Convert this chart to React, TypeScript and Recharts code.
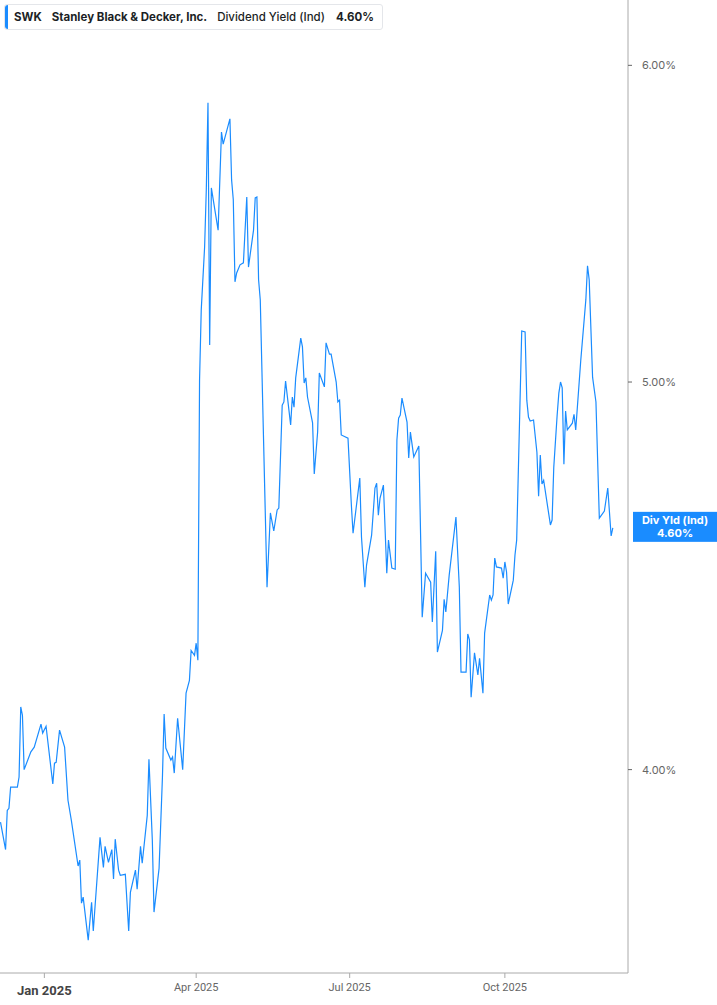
import React from 'react'
import { Line, LineChart, ReferenceLine, XAxis, YAxis } from 'recharts'

// days counted from 1 Jan 2025
const dayOffsets = [
  -26, -23, -22, -21, -20, -16, -15, -14, -13, -12, -8, -6, -2, -1, 1, 5, 6, 7, 9, 12, 14, 16, 20, 21, 22,
  23, 26, 28, 29, 33, 35, 36, 38, 40, 41, 42, 44, 45, 48, 50, 51, 54, 55, 57, 58, 61, 62, 64, 65, 68, 70,
  71, 72, 75, 76, 77, 79, 82, 84, 86, 87, 89, 90, 91,
  92, 93, 95, 96, 97, 98, 99, 103, 105, 106, 110, 111, 112, 113, 114, 116, 118, 120, 121, 124, 125, 126,
  127, 128,
  132, 134, 136, 138, 139, 141, 142, 143, 146, 147, 148, 149, 152, 153, 154, 155, 156, 159, 160, 162, 163,
  166, 167, 169, 170, 173, 174, 175, 176, 180, 182, 183, 187, 188, 190, 191, 194, 196, 197, 198, 199, 201,
  203, 204, 206, 208, 209, 210, 211, 212, 215, 216, 217, 219, 222, 224, 226, 229, 230, 232, 233, 236, 237,
  238, 240, 244, 246, 247, 250, 251, 252, 253, 255, 257, 258, 260, 261, 264, 265, 266, 267, 268, 271, 272,
  273, 274, 275, 278, 279, 280, 283, 285, 286, 287, 288, 290, 292, 293, 294, 295, 296, 300, 301, 302, 304,
  305, 306, 307, 308, 309, 310, 313, 314, 315, 318, 321, 322, 323, 325, 327, 329, 332, 334, 336, 337,
]

const yieldValues = [
  3.881, 3.82, 3.907, 3.912, 3.96, 3.96, 3.983, 4.147, 4.127, 4.0, 4.041, 4.052, 4.106, 4.085, 4.101, 3.967,
  4.015, 4.017, 4.092, 4.052, 3.93, 3.885, 3.784, 3.797, 3.704, 3.717, 3.626, 3.706, 3.645, 3.847, 3.781,
  3.827, 3.792, 3.82, 3.756, 3.843, 3.775, 3.764, 3.766, 3.645, 3.727, 3.775, 3.734, 3.827, 3.79, 3.896,
  4.024, 3.841, 3.685, 3.779, 3.983, 4.13, 4.05, 4.022, 4.029, 3.992, 4.12, 4.0, 4.18, 4.211, 4.284, 4.272,
  4.302, 4.26,
  5.006, 5.212, 5.404, 5.585, 5.872, 5.108, 5.591, 5.457, 5.774, 5.734, 5.818, 5.617, 5.553, 5.297, 5.324,
  5.349, 5.355, 5.562, 5.342, 5.457, 5.559, 5.562, 5.303, 5.242,
  4.443, 4.637, 4.589, 4.645, 4.65, 4.934, 4.943, 5.003, 4.878, 4.957, 4.928, 5.012, 5.128, 5.102, 4.997,
  5.012, 4.957, 4.884, 4.742, 4.858, 5.026, 4.986, 5.114, 5.081, 5.081, 5.0, 4.943, 4.948, 4.85, 4.841,
  4.658, 4.583, 4.731, 4.573, 4.443, 4.5, 4.578, 4.704, 4.717, 4.631, 4.677, 4.712, 4.479, 4.565, 4.492,
  4.489, 4.836, 4.897, 4.906, 4.954, 4.886, 4.786, 4.858, 4.789, 4.819, 4.367, 4.479, 4.456, 4.355, 4.536,
  4.28, 4.334, 4.412, 4.38, 4.474, 4.626, 4.443, 4.231, 4.231, 4.325, 4.31, 4.17, 4.278, 4.224, 4.265,
  4.18, 4.327, 4.423, 4.41, 4.423, 4.518, 4.495, 4.492, 4.466, 4.508, 4.482, 4.4, 4.461, 4.526, 4.565,
  5.149, 5.146, 4.948, 4.9, 4.889, 4.892, 4.802, 4.682, 4.794, 4.715, 4.725, 4.605, 4.618, 4.761, 4.906,
  4.968, 5.0, 4.983, 4.769, 4.917, 4.864, 4.883, 4.908, 4.864, 5.063, 5.242, 5.346, 5.303, 5.014, 4.943,
  4.623, 4.642, 4.704, 4.576, 4.597,
]

const xTickDays = [0, 90, 181, 273]
const xTickLabels = ['Jan 2025', 'Apr 2025', 'Jul 2025', 'Oct 2025']
const yTicks = [4, 5, 6]
const lastYield = 4.6

const data = dayOffsets.map((d, i) => ({ day: d, value: yieldValues[i] }))

const BLUE = '#1a8cff'

const XTick = (props: any) => {
  const { x, y, payload } = props
  const i = xTickDays.indexOf(payload.value)
  const first = i === 0
  return (
    <text
      x={x}
      y={y + (first ? 15 : 11)}
      textAnchor="middle"
      fontFamily="Roboto, sans-serif"
      fontSize={first ? 13 : 11}
      fontWeight={first ? 700 : 400}
      fill={first ? '#444' : '#666'}
    >
      {xTickLabels[i]}
    </text>
  )
}

const PriceTag = (props: any) => {
  const vb = props.viewBox || {}
  const x = vb.x + vb.width + 5
  const cy = vb.y
  return (
    <g>
      <rect x={x} y={cy - 15} width={90} height={30} fill={BLUE} />
      <text x={x + 42} y={cy - 3} textAnchor="middle" fontFamily="Inter, sans-serif" fontSize={11} fontWeight={700} fill="#fff">
        Div Yld (Ind)
      </text>
      <text x={x + 42} y={cy + 10} textAnchor="middle" fontFamily="Inter, sans-serif" fontSize={11} fontWeight={700} fill="#fff">
        {lastYield.toFixed(2)}%
      </text>
    </g>
  )
}

const App = () => {
  return (
    <div style={{ position: 'absolute', left: 0, top: 0, width: 717, height: 1005, background: '#fff' }}>
      <LineChart width={717} height={1005} data={data} margin={{ top: 0, right: 0, left: 0, bottom: 0 }}>
        <XAxis
          dataKey="day"
          type="number"
          domain={[-26.3, 346]}
          ticks={xTickDays}
          tick={<XTick />}
          height={32}
          stroke="#aaa"
          tickLine={{ stroke: '#aaa' }}
          tickSize={5}
          allowDataOverflow
        />
        <YAxis
          orientation="right"
          scale="log"
          domain={[3.558, 6.23]}
          allowDataOverflow
          ticks={yTicks}
          width={89}
          stroke="#aaa"
          tickLine={{ stroke: '#666' }}
          tickSize={4}
          tickMargin={10}
          tick={{ fontFamily: 'Inter, sans-serif', fontSize: 11, fill: '#666' }}
          tickFormatter={(v: number) => v.toFixed(2) + '%'}
        />
        <ReferenceLine y={lastYield} stroke="none" ifOverflow="visible" label={<PriceTag />} />
        <Line
          type="linear"
          dataKey="value"
          stroke={BLUE}
          strokeWidth={1.2}
          dot={false}
          activeDot={false}
          isAnimationActive={false}
        />
      </LineChart>
      <div
        style={{
          position: 'absolute',
          left: 4,
          top: 4,
          width: 379,
          height: 26,
          boxSizing: 'border-box',
          border: '1px solid #e4e6ea',
          borderRadius: 3,
          background: '#fff',
          display: 'flex',
          alignItems: 'center',
          fontFamily: 'Inter, sans-serif',
          fontSize: 11.5,
          color: '#1c1f26',
          whiteSpace: 'nowrap',
        }}
      >
        <div style={{ position: 'absolute', left: 0, top: 0, bottom: 0, width: 3, background: BLUE, borderRadius: '3px 0 0 3px' }} />
        <span style={{ marginLeft: 9, fontWeight: 700 }}>SWK</span>
        <span style={{ marginLeft: 10, fontWeight: 700 }}>Stanley Black &amp; Decker, Inc.</span>
        <span style={{ marginLeft: 10, fontWeight: 500 }}>Dividend Yield (Ind)</span>
        <span style={{ marginLeft: 11, fontWeight: 700 }}>4.60%</span>
      </div>
    </div>
  )
}

export default App
